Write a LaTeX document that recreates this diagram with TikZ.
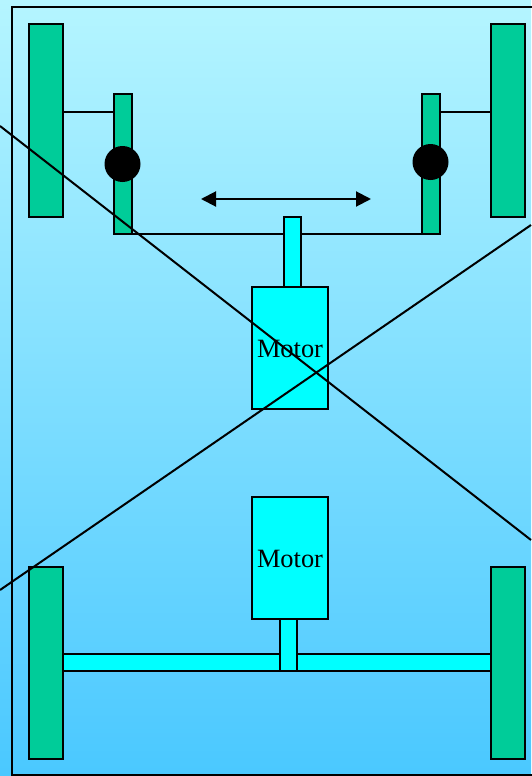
\documentclass[tikz,border=0pt]{standalone}
\usepackage{fontspec}
\setmainfont{Liberation Serif}
\usetikzlibrary{arrows.meta}
\definecolor{wheelgreen}{RGB}{0,204,153}
\definecolor{partcyan}{RGB}{0,255,255}
\definecolor{bgtop}{RGB}{181,245,255}
\definecolor{bgbottom}{RGB}{74,200,255}
\tikzset{
  px/.style={x=1pt,y=-1pt},
  part/.style={draw=black,line width=2pt,inner sep=0pt,outer sep=0pt,rectangle},
  wheelbox/.style={part,fill=wheelgreen,minimum width=34.5pt,minimum height=192.5pt},
  knucklebox/.style={part,fill=wheelgreen,minimum width=17.5pt,minimum height=140pt},
  stembox/.style={part,fill=partcyan,minimum width=17pt},
  motorbox/.style={part,fill=partcyan,minimum width=76.5pt,minimum height=122pt},
  motorlabel/.style={inner sep=0pt,font=\fontsize{26.4}{30}\selectfont},
  pivot/.style={circle,fill=black,minimum size=36pt,inner sep=0pt},
  wire/.style={draw=black,line width=2pt},
}
\begin{document}
\begin{tikzpicture}[px]
\useasboundingbox (0,0) rectangle (531,776);
\shade[top color=bgtop,bottom color=bgbottom] (0,0) rectangle (531,776);
\node[part,minimum width=523pt,minimum height=768pt] (frame) at (273.5,391) {};
\node[wheelbox] (wtl) at (46,120.6) {};
\node[wheelbox] (wtr) at (508,120.6) {};
\node[wheelbox] (wbl) at (46,663) {};
\node[wheelbox] (wbr) at (508,663) {};
\node[knucklebox] (ktl) at (123.2,164.4) {};
\node[knucklebox] (ktr) at (431.2,164.4) {};
\node[pivot] (ptl) at (122.5,164) {};
\node[pivot] (ptr) at (430.5,162) {};
\draw[wire] (wtl.east |- 0,112) -- (ktl.west |- 0,112);
\draw[wire] (wtr.west |- 0,112) -- (ktr.east |- 0,112);
\draw[wire] (ktl.south east) -- (ktr.south west);
\node[part,fill=partcyan,minimum width=428pt,minimum height=17pt] (axle) at (277,662.5) {};
\node[stembox,minimum height=70pt] (stemt) at (292.2,252) {};
\node[stembox,minimum height=52pt] (stemb) at (288.5,645) {};
\node[motorbox] (motort) at (289.8,348) {};
\node[motorbox] (motorb) at (289.8,558) {};
\node[motorlabel] (lt) at (290,349) {Motor};
\node[motorlabel] (lb) at (290,558.5) {Motor};
\coordinate (al) at (201,199);
\coordinate (ar) at (371,199);
\draw[wire,{Stealth[length=15pt,width=15pt,inset=0pt]}-{Stealth[length=15pt,width=15pt,inset=0pt]}] (al) -- (ar);
\coordinate (d1a) at (0,126);
\coordinate (d1b) at (531,540);
\coordinate (d2a) at (0,590);
\coordinate (d2b) at (531,225);
\draw[wire] (d1a) -- (d1b);
\draw[wire] (d2a) -- (d2b);
\end{tikzpicture}
\end{document}
